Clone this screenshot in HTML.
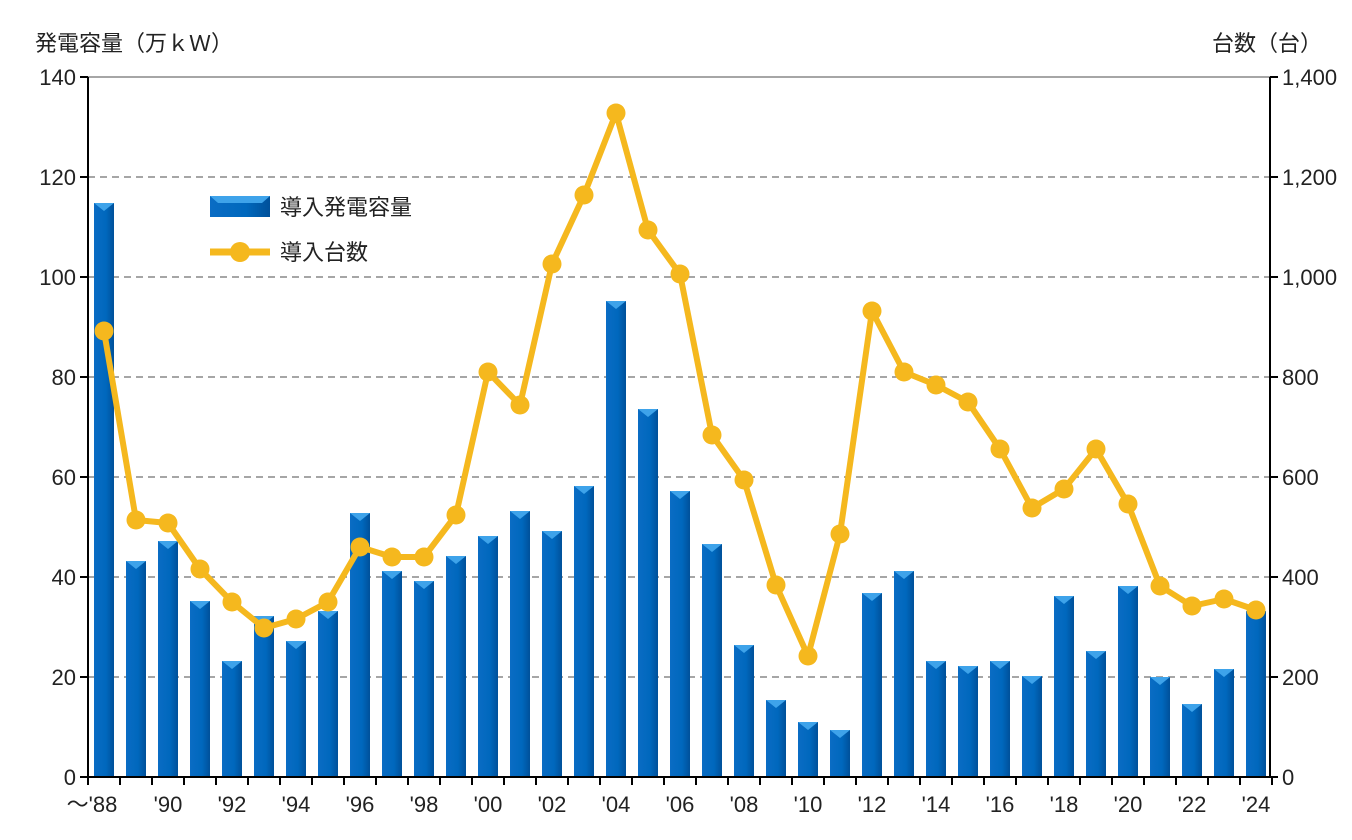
<!DOCTYPE html>
<html><head><meta charset="utf-8"><style>
body{margin:0;background:#fff;}
svg{display:block;font-family:"Liberation Sans","Noto Sans CJK JP",sans-serif;}
</style></head><body>
<svg id="c" width="1352" height="840">
<defs>
<linearGradient id="bg" x1="0" x2="1" y1="0" y2="0">
<stop offset="0" stop-color="#0a6cc4"/><stop offset="0.6" stop-color="#0068bd"/><stop offset="1" stop-color="#00509a"/>
</linearGradient>
</defs>
<g id="grid"></g>
<g id="bars"></g>
<g id="line"></g>
<g id="axes"></g>
<text x="35" y="51" font-size="22" fill="#222">発電容量（万ｋＷ）</text>
<text x="1212" y="51" font-size="22" fill="#222">台数（台）</text>
<g>
<rect x="210" y="196" width="60" height="21" fill="url(#bg)"/>
<polygon points="210,196 270,196 262,203 218,203" fill="#3ea3ea"/>
<text x="280" y="215" font-size="22" fill="#222">導入発電容量</text>
<line x1="210" y1="252" x2="270" y2="252" stroke="#f5b81e" stroke-width="7"/>
<circle cx="240" cy="252" r="10" fill="#f5b81e"/>
<text x="280" y="260" font-size="22" fill="#222">導入台数</text>
</g>
</svg>
<script>
const years=[1988,1989,1990,1991,1992,1993,1994,1995,1996,1997,1998,1999,2000,2001,2002,2003,2004,2005,2006,2007,2008,2009,2010,2011,2012,2013,2014,2015,2016,2017,2018,2019,2020,2021,2022,2023,2024];
const capacity=[114.8,43.2,47.2,35.2,23.2,32.2,27.2,33.2,52.8,41.2,39.2,44.2,48.2,53.2,49.2,58.2,95.2,73.6,57.2,46.6,26.4,15.4,11,9.4,36.8,41.2,23.2,22.2,23.2,20.2,36.2,25.2,38.2,20,14.6,21.6,33.2];
const units=[892,514,508,416,350,298,316,350,460,440,440,524,810,744,1026,1164,1328,1094,1006,684,594,384,242,486,932,810,784,750,656,538,576,656,546,382,342,356,334];
const leftTicks=[0,20,40,60,80,100,120,140];
const rightTickLabels=["0","200","400","600","800","1,000","1,200","1,400"];
const NS="http://www.w3.org/2000/svg";
const X0=88,X1=1270,Y0=777,Y1=77,step=32,first=104;
const xc=i=>first+i*step;
const yl=v=>Y0-(v/140)*(Y0-Y1);
const yr=v=>Y0-(v/1400)*(Y0-Y1);
function mk(tag,attrs,parent){const e=document.createElementNS(NS,tag);for(const k in attrs)e.setAttribute(k,attrs[k]);parent.appendChild(e);return e;}
const grid=document.getElementById('grid'),bars=document.getElementById('bars'),line=document.getElementById('line'),axes=document.getElementById('axes');
leftTicks.forEach((t,i)=>{
 const y=yl(t);
 if(t>0){const g=mk('line',{x1:X0,x2:X1,y1:y,y2:y,stroke:'#888','stroke-width':1.5,'stroke-dasharray':t===140?'none':'7,5'},grid);
 
 }
 const tk=mk('line',{x1:X0-8,x2:X0,y1:y,y2:y,stroke:'#000','stroke-width':2},axes);
 
 
 const tr=mk('line',{x1:X1,x2:X1+8,y1:y,y2:y,stroke:'#000','stroke-width':2},axes);
 
 
 const lt=mk('text',{x:X0-12,y:y+8,'font-size':22,'text-anchor':'end',fill:'#222'},axes);lt.textContent=t;
 
 
 const rt=mk('text',{x:X1+12,y:y+8,'font-size':22,fill:'#222'},axes);rt.textContent=rightTickLabels[i];
 
 
});
capacity.forEach((v,i)=>{
 const x=xc(i)-10,y=yl(v);
 const r=mk('rect',{x:x,y:y,width:20,height:Y0-y,fill:'url(#bg)'},bars);
 
 
 const p=mk('polygon',{points:`${x},${y} ${x+20},${y} ${x+10},${y+8}`,fill:'#3ea3ea'},bars);
 
 
});
const pl=mk('polyline',{points:units.map((v,i)=>xc(i)+','+yr(v)).join(' '),fill:'none',stroke:'#f5b81e','stroke-width':6,'stroke-linejoin':'round'},line);


units.forEach((v,i)=>{
 const c=mk('circle',{cx:xc(i),cy:yr(v),r:9.5,fill:'#f5b81e'},line);
 
 
});
const a1=mk('line',{x1:X0,x2:X0,y1:Y1,y2:Y0,stroke:'#000','stroke-width':2},axes);


const a2=mk('line',{x1:X1,x2:X1,y1:Y1,y2:Y0,stroke:'#000','stroke-width':2},axes);


const a3=mk('line',{x1:X0,x2:X1,y1:Y0,y2:Y0,stroke:'#000','stroke-width':2},axes);


for(let i=0;i<=years.length;i++){
 const x=first-16+i*step;
 const t=mk('line',{x1:x,x2:x,y1:Y0,y2:Y0+8,stroke:'#000','stroke-width':2},axes);
 
 
}
years.forEach((yv,i)=>{
 if(i%2)return;
 const s="'"+String(yv).slice(2);
 const t=mk('text',{x:xc(i),y:812,'font-size':22,'text-anchor':'middle',fill:'#222'},axes);
 t.textContent=i===0?'～'+s:s;
 if(i===0)t.setAttribute('x',xc(i)-12);
 
 
});
</script>
</body></html>
